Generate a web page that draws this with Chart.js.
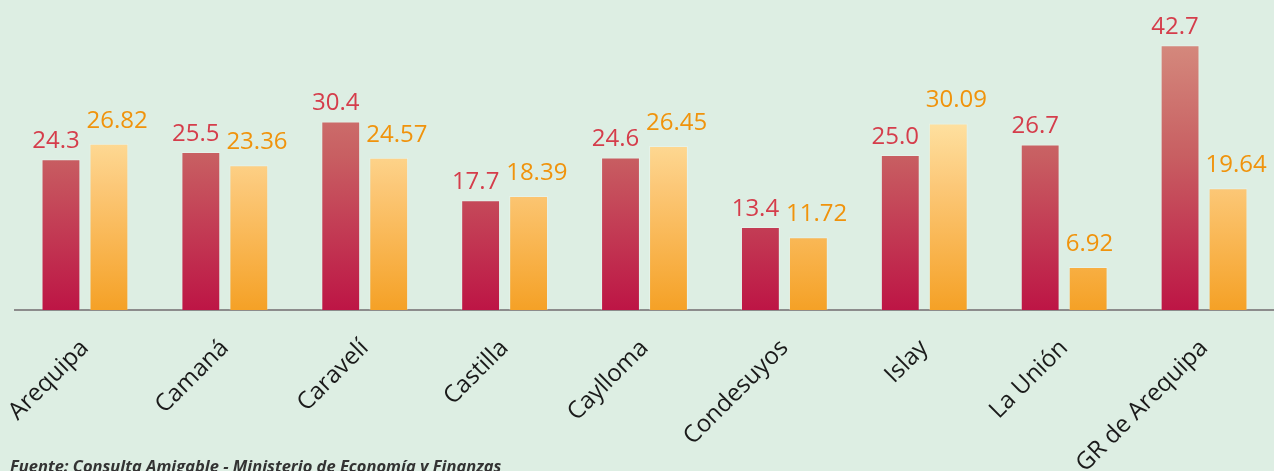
<!DOCTYPE html>
<html>
<head>
<meta charset="utf-8">
<script src="https://cdn.jsdelivr.net/npm/chart.js@4/dist/chart.umd.min.js"></script>
<style>
  body { margin: 0; background: #ddeee3; }
  #wrap { position: relative; width: 1274px; height: 471px; overflow: hidden; }
  #fuente {
    position: absolute; left: 10px; top: 454px;
    font: italic bold 16.5px "Open Sans", sans-serif; color: #333;
    white-space: nowrap;
  }
</style>
</head>
<body>
<div id="wrap">
  <canvas id="chartContainer"></canvas>
  <div id="fuente">Fuente: Consulta Amigable - Ministerio de Economía y Finanzas</div>
</div>
<script>
// categories and the two series
let provincias = ['Arequipa', 'Camaná', 'Caravelí', 'Castilla', 'Caylloma', 'Condesuyos', 'Islay', 'La Unión', 'GR de Arequipa'];
let serieRoja = [24.3, 25.5, 30.4, 17.7, 24.6, 13.4, 25.0, 26.7, 42.7];
let serieNaranja = [26.82, 23.36, 24.57, 18.39, 26.45, 11.72, 30.09, 6.92, 19.64];
let etiquetasRojas = ['24.3', '25.5', '30.4', '17.7', '24.6', '13.4', '25.0', '26.7', '42.7'];
let etiquetasNaranja = ['26.82', '23.36', '24.57', '18.39', '26.45', '11.72', '30.09', '6.92', '19.64'];

// vertical gradient over the whole chart area
function gradiente(ctx, stops) {
  let area = ctx.chart.chartArea;
  if (!area) return stops[stops.length - 1][1];
  let g = ctx.chart.ctx.createLinearGradient(0, area.top, 0, area.bottom);
  for (const s of stops) g.addColorStop(s[0], s[1]);
  return g;
}

// value labels on top of the bars
let etiquetas = {
  id: 'etiquetas',
  afterDatasetsDraw(chart) {
    let ctx = chart.ctx;
    ctx.save();
    ctx.font = '24px "Open Sans", sans-serif';
    ctx.textBaseline = 'middle';
    chart.data.datasets.forEach((ds, i) => {
      let meta = chart.getDatasetMeta(i);
      meta.data.forEach((bar, j) => {
        ctx.fillStyle = ds.labelColor;
        if (i === 0) {
          ctx.textAlign = 'center';
          ctx.fillText(ds.labels[j], bar.x - 5, bar.y - 18);
        } else {
          ctx.textAlign = 'left';
          ctx.fillText(ds.labels[j], bar.x - bar.width / 2 - 3, bar.y - 23);
        }
      });
    });
    ctx.restore();
  }
};

function appendChart() {
  let chartContainer = document.getElementById('chartContainer');
  new Chart(chartContainer, {
    type: 'bar',
    data: {
      labels: provincias,
      datasets: [
        {
          data: serieRoja,
          labels: etiquetasRojas,
          labelColor: '#d53d4b',
          backgroundColor: (c) => gradiente(c, [[0, '#dc9e90'], [0.15, '#d4887c'], [0.5, '#c85f62'], [1, '#bd1545']]),
          borderColor: 'rgba(255,255,255,0.25)',
          borderWidth: 1,
          barPercentage: 0.81,
          categoryPercentage: 0.686
        },
        {
          data: serieNaranja,
          labels: etiquetasNaranja,
          labelColor: '#f0930c',
          backgroundColor: (c) => gradiente(c, [[0, '#fff2c8'], [0.4, '#fee09f'], [0.6, '#fcc878'], [1, '#f5a126']]),
          borderColor: 'rgba(255,255,255,0.25)',
          borderWidth: 1,
          barPercentage: 0.81,
          categoryPercentage: 0.686
        }
      ]
    },
    options: {
      responsive: true,
      maintainAspectRatio: false,
      animation: false,
      layout: { padding: { left: 15, right: 0, top: 0, bottom: 0 } },
      plugins: {
        legend: { display: false },
        tooltip: { enabled: false }
      },
      scales: {
        y: {
          display: false,
          min: 0,
          max: 50
        },
        x: {
          grid: { display: false },
          border: { display: true, color: '#8c8c8c', width: 2 },
          ticks: {
            color: '#1a1a1a',
            font: { family: '"Open Sans", sans-serif', size: 24 },
            minRotation: 45,
            maxRotation: 45,
            padding: 16
          },
          afterFit: (scale) => {
            scale.height = 161;
            // labels may hang past the left edge, like in the original
            scale.paddingLeft = 0;
            scale.paddingRight = 0;
          }
        }
      }
    },
    plugins: [etiquetas]
  });
}

appendChart();
</script>
</body>
</html>
